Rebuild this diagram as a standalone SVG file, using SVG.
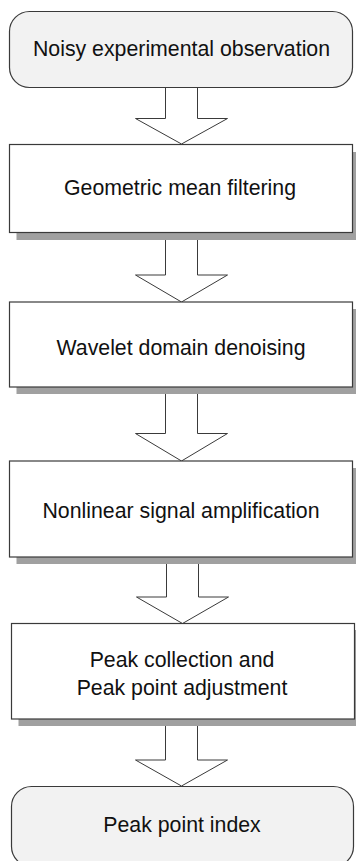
<svg xmlns="http://www.w3.org/2000/svg" width="356" height="861" viewBox="0 0 356 861">
<style>
.term{fill:#f2f2f2;stroke:#3a3a3a;stroke-width:1.2}
.proc{fill:#ffffff;stroke:#3a3a3a;stroke-width:1.2}
.shadow{fill:#a0a0a0;stroke:none}
.arrow{fill:#ffffff;stroke:#3a3a3a;stroke-width:1}
.lbl{font-family:"Liberation Sans",Arial,sans-serif;font-size:21.3px;fill:#111;text-anchor:middle}
</style>
<rect width="356" height="861" fill="#ffffff"/>
<g id="connectors">
<path class="arrow" d="M165.5,87 V118.5 H135.5 L181.5,144 L227.5,118.5 H197.5 V87"/>
<path class="arrow" d="M165.5,233 V275 H135.5 L181.5,302 L227.5,275 H197.5 V233"/>
<path class="arrow" d="M165.5,387 V433.5 H135.5 L181.5,461 L227.5,433.5 H197.5 V387"/>
<path class="arrow" d="M166.5,557 V597 H136.5 L182.5,623.5 L228.5,597 H198.5 V557"/>
<path class="arrow" d="M165.5,719 V760 H135.5 L181.5,786 L227.5,760 H197.5 V719"/>
</g>
<g id="n1">
<rect class="term" x="9.5" y="11.5" width="343" height="76" rx="20" ry="20"/>
<text class="lbl" x="181.5" y="56">Noisy experimental observation</text>
</g>
<g id="n2">
<rect class="shadow" x="16.5" y="152" width="343" height="88"/>
<rect class="proc" x="9.5" y="144.5" width="343" height="88"/>
<text class="lbl" x="180" y="195">Geometric mean filtering</text>
</g>
<g id="n3">
<rect class="shadow" x="16.5" y="309" width="343" height="85"/>
<rect class="proc" x="9.5" y="302" width="343" height="85"/>
<text class="lbl" x="181" y="355">Wavelet domain denoising</text>
</g>
<g id="n4">
<rect class="shadow" x="16.5" y="468" width="343" height="96"/>
<rect class="proc" x="9.5" y="461" width="343" height="96"/>
<text class="lbl" x="181" y="518">Nonlinear signal amplification</text>
</g>
<g id="n5">
<rect class="shadow" x="18.5" y="630" width="343" height="96"/>
<rect class="proc" x="11.5" y="623.5" width="343" height="95.5"/>
<text class="lbl" x="182" y="667">Peak collection and</text>
<text class="lbl" x="182" y="695">Peak point adjustment</text>
</g>
<g id="n6">
<rect class="term" x="11.5" y="786.5" width="342" height="80" rx="20" ry="20"/>
<text class="lbl" x="182" y="832">Peak point index</text>
</g>
</svg>
